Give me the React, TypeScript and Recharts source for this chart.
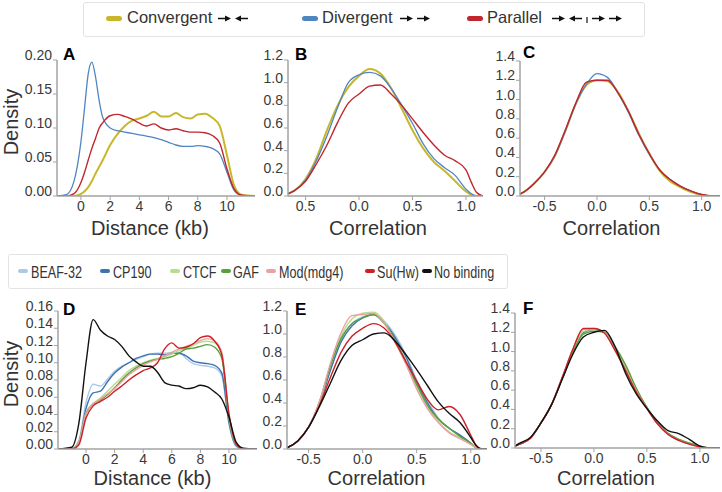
import React from 'react';
import { LineChart, Line, XAxis, YAxis } from 'recharts';

const FONT = '"Liberation Sans", Arial, Helvetica, sans-serif';
const AXIS_COLOR = '#a3a3a3';
const TEXT_COLOR = '#3a3a3a';

// ---------- top row: gene pair orientation ----------
const orientNames = ['Convergent', 'Divergent', 'Parallel'];
const orientKeys = ['conv', 'div', 'par'];
const orientColors = ['#c8b72b', '#4f86c1', '#c1252d'];
const orientWidths = [2, 1.3, 1.4];
const orientArrows = [['r', 'l'], ['r', 'r'], ['r', 'l', '|', 'r', 'r']];

// A: density of distance (kb)
const distanceA = [-1.64, -1, -0.5, 0, 0.25, 0.5, 0.75, 1, 1.25, 1.5, 2, 2.5, 3, 3.5, 4, 4.5, 5, 5.5, 6, 6.5, 7, 7.5, 8, 8.5, 9, 9.5, 10, 10.5, 11, 11.92];
const convA = [0, 0, 0, 0.003, 0.007, 0.013, 0.022, 0.033, 0.043, 0.053, 0.075, 0.091, 0.103, 0.111, 0.114, 0.118, 0.124, 0.117, 0.117, 0.122, 0.116, 0.114, 0.12, 0.121, 0.115, 0.103, 0.06, 0.015, 0.002, 0];
const divA = [0, 0.002, 0.02, 0.08, 0.13, 0.18, 0.197, 0.175, 0.14, 0.115, 0.1, 0.096, 0.094, 0.092, 0.09, 0.088, 0.086, 0.083, 0.079, 0.075, 0.073, 0.073, 0.074, 0.073, 0.07, 0.062, 0.035, 0.008, 0.001, 0];
const parA = [0, 0, 0.003, 0.02, 0.035, 0.053, 0.07, 0.085, 0.1, 0.108, 0.118, 0.12, 0.117, 0.113, 0.107, 0.103, 0.106, 0.1, 0.097, 0.099, 0.096, 0.094, 0.094, 0.093, 0.089, 0.078, 0.04, 0.01, 0.001, 0];

// B: density of correlation
const corrB = [-0.664, -0.6, -0.5, -0.4, -0.3, -0.2, -0.1, 0, 0.1, 0.2, 0.3, 0.4, 0.5, 0.6, 0.7, 0.8, 0.9, 1.0, 1.05, 1.1, 1.159];
const convB = [0.02, 0.05, 0.15, 0.33, 0.58, 0.8, 0.96, 1.06, 1.12, 1.08, 0.95, 0.77, 0.58, 0.42, 0.3, 0.22, 0.13, 0.04, 0.01, 0, 0];
const divB = [0.02, 0.05, 0.14, 0.31, 0.53, 0.78, 1.0, 1.07, 1.09, 1.06, 0.95, 0.8, 0.64, 0.46, 0.33, 0.25, 0.18, 0.06, 0.02, 0, 0];
const parB = [0.02, 0.05, 0.13, 0.28, 0.45, 0.65, 0.82, 0.9, 0.97, 0.98, 0.9, 0.8, 0.68, 0.56, 0.45, 0.36, 0.31, 0.23, 0.12, 0.03, 0];

// C: density of correlation
const corrC = [-0.735, -0.7, -0.6, -0.5, -0.4, -0.3, -0.2, -0.1, 0, 0.1, 0.2, 0.3, 0.4, 0.5, 0.6, 0.7, 0.8, 0.9, 1.0, 1.1, 1.175];
const convC = [0.02, 0.04, 0.13, 0.25, 0.42, 0.68, 0.96, 1.15, 1.2, 1.19, 1.08, 0.88, 0.65, 0.44, 0.26, 0.15, 0.09, 0.04, 0.01, 0, 0];
const divC = [0.02, 0.04, 0.13, 0.25, 0.42, 0.68, 0.96, 1.16, 1.27, 1.23, 1.07, 0.87, 0.63, 0.43, 0.27, 0.17, 0.1, 0.05, 0.015, 0, 0];
const parC = [0.02, 0.04, 0.13, 0.25, 0.43, 0.69, 0.97, 1.18, 1.2, 1.2, 1.07, 0.88, 0.64, 0.44, 0.27, 0.17, 0.1, 0.05, 0.015, 0, 0];

// ---------- bottom row: insulator binding ----------
const bindNames = ['BEAF-32', 'CP190', 'CTCF', 'GAF', 'Mod(mdg4)', 'Su(Hw)', 'No binding'];
const bindKeys = ['beaf', 'cp190', 'ctcf', 'gaf', 'mod', 'suhw', 'none'];
const bindColors = ['#a9cbe6', '#3f74b3', '#b9dc8f', '#57a03a', '#eba1a1', '#cb2026', '#111111'];

// D: density of distance (kb)
const distanceD = [-1.96, -1, -0.5, 0, 0.5, 1, 1.5, 2, 2.5, 3, 3.5, 4, 4.5, 5, 5.5, 6, 6.5, 7, 7.5, 8, 8.5, 9, 9.5, 10, 10.5, 11, 11.96];
const beafD = [0, 0, 0.01, 0.054, 0.075, 0.073, 0.081, 0.09, 0.096, 0.1, 0.104, 0.107, 0.11, 0.111, 0.111, 0.112, 0.112, 0.105, 0.099, 0.097, 0.096, 0.094, 0.085, 0.029, 0.003, 0, 0];
const cp190D = [0, 0, 0.008, 0.047, 0.065, 0.067, 0.078, 0.088, 0.095, 0.1, 0.105, 0.108, 0.11, 0.11, 0.109, 0.111, 0.111, 0.108, 0.102, 0.1, 0.099, 0.097, 0.088, 0.031, 0.004, 0, 0];
const ctcfD = [0, 0, 0.008, 0.042, 0.053, 0.059, 0.067, 0.075, 0.083, 0.091, 0.096, 0.1, 0.103, 0.105, 0.107, 0.11, 0.114, 0.117, 0.12, 0.124, 0.125, 0.123, 0.11, 0.037, 0.005, 0, 0];
const gafD = [0, 0, 0.008, 0.041, 0.052, 0.057, 0.063, 0.071, 0.08, 0.088, 0.094, 0.099, 0.102, 0.104, 0.105, 0.107, 0.111, 0.116, 0.117, 0.119, 0.121, 0.118, 0.105, 0.036, 0.005, 0, 0];
const modD = [0, 0, 0.008, 0.041, 0.052, 0.058, 0.064, 0.07, 0.078, 0.086, 0.092, 0.097, 0.101, 0.104, 0.108, 0.112, 0.116, 0.119, 0.122, 0.126, 0.128, 0.125, 0.112, 0.039, 0.006, 0, 0];
const suhwD = [0, 0, 0.005, 0.036, 0.05, 0.055, 0.06, 0.067, 0.073, 0.08, 0.086, 0.091, 0.094, 0.1, 0.116, 0.123, 0.117, 0.118, 0.122, 0.129, 0.131, 0.125, 0.109, 0.041, 0.006, 0, 0];
const noneD = [0, 0.002, 0.03, 0.1, 0.15, 0.138, 0.131, 0.127, 0.119, 0.108, 0.101, 0.096, 0.096, 0.089, 0.077, 0.074, 0.073, 0.07, 0.071, 0.074, 0.072, 0.066, 0.058, 0.037, 0.008, 0.001, 0];

// E: density of correlation
const corrE = [-0.7, -0.6, -0.5, -0.4, -0.3, -0.2, -0.1, 0, 0.1, 0.2, 0.3, 0.4, 0.5, 0.6, 0.7, 0.8, 0.9, 1.0, 1.05, 1.1, 1.15];
const beafE = [0.01, 0.07, 0.19, 0.39, 0.68, 0.94, 1.09, 1.15, 1.17, 1.11, 0.99, 0.82, 0.6, 0.42, 0.27, 0.18, 0.12, 0.05, 0.01, 0, 0];
const cp190E = [0.01, 0.07, 0.19, 0.39, 0.68, 0.93, 1.07, 1.14, 1.17, 1.1, 0.97, 0.8, 0.58, 0.4, 0.26, 0.18, 0.12, 0.05, 0.01, 0, 0];
const ctcfE = [0.01, 0.07, 0.19, 0.4, 0.72, 0.98, 1.13, 1.18, 1.19, 1.11, 0.93, 0.74, 0.54, 0.37, 0.24, 0.15, 0.1, 0.04, 0.01, 0, 0];
const gafE = [0.01, 0.07, 0.19, 0.41, 0.72, 0.96, 1.09, 1.14, 1.17, 1.09, 0.95, 0.76, 0.56, 0.38, 0.26, 0.18, 0.11, 0.05, 0.01, 0, 0];
const modE = [0.01, 0.07, 0.19, 0.41, 0.74, 1.01, 1.16, 1.17, 1.18, 1.09, 0.93, 0.74, 0.52, 0.35, 0.23, 0.14, 0.09, 0.04, 0.01, 0, 0];
const suhwE = [0.01, 0.07, 0.19, 0.38, 0.62, 0.84, 0.98, 1.05, 1.09, 1.05, 0.93, 0.76, 0.59, 0.43, 0.34, 0.37, 0.3, 0.12, 0.03, 0, 0];
const noneE = [0.01, 0.07, 0.19, 0.37, 0.57, 0.77, 0.9, 0.95, 1.0, 1.01, 0.94, 0.82, 0.69, 0.55, 0.41, 0.31, 0.23, 0.1, 0.03, 0, 0];

// F: density of correlation
const corrF = [-0.745, -0.7, -0.6, -0.5, -0.4, -0.3, -0.2, -0.1, 0, 0.1, 0.2, 0.3, 0.4, 0.5, 0.6, 0.7, 0.8, 0.9, 1.0, 1.1, 1.19];
const beafF = [0.02, 0.04, 0.1, 0.26, 0.45, 0.72, 1.0, 1.2, 1.23, 1.2, 1.03, 0.82, 0.6, 0.42, 0.26, 0.15, 0.09, 0.05, 0.02, 0, 0];
const cp190F = [0.02, 0.04, 0.1, 0.26, 0.45, 0.72, 1.0, 1.2, 1.23, 1.2, 1.03, 0.82, 0.6, 0.42, 0.26, 0.15, 0.09, 0.05, 0.02, 0, 0];
const ctcfF = [0.02, 0.04, 0.1, 0.26, 0.45, 0.72, 1.0, 1.21, 1.23, 1.2, 1.04, 0.84, 0.6, 0.42, 0.25, 0.15, 0.09, 0.05, 0.02, 0, 0];
const gafF = [0.02, 0.04, 0.1, 0.26, 0.45, 0.72, 0.99, 1.18, 1.21, 1.2, 1.05, 0.86, 0.62, 0.42, 0.26, 0.15, 0.09, 0.05, 0.02, 0, 0];
const modF = [0.02, 0.04, 0.1, 0.26, 0.45, 0.73, 1.02, 1.23, 1.24, 1.2, 1.02, 0.81, 0.59, 0.41, 0.25, 0.14, 0.08, 0.04, 0.01, 0, 0];
const suhwF = [0.02, 0.04, 0.1, 0.26, 0.45, 0.73, 1.02, 1.24, 1.24, 1.19, 1.01, 0.8, 0.58, 0.41, 0.25, 0.14, 0.08, 0.04, 0.01, 0, 0];
const noneF = [0.02, 0.05, 0.11, 0.26, 0.45, 0.71, 0.97, 1.15, 1.2, 1.22, 1.05, 0.77, 0.56, 0.41, 0.28, 0.18, 0.15, 0.09, 0.02, 0, 0];

// axis ticks
const distanceTicks = [0, 2, 4, 6, 8, 10];
const distanceLabels = ['0', '2', '4', '6', '8', '10'];
const corrTicks = [-0.5, 0, 0.5, 1];
const corrLabels = ['-0.5', '0.0', '0.5', '1.0'];
const corrLabelsB = ['0.5', '0.0', '0.5', '1.0']; // panel B prints the first one without its sign
const densityTicksA = [0, 0.05, 0.1, 0.15, 0.2];
const densityTicksD = [0, 0.02, 0.04, 0.06, 0.08, 0.1, 0.12, 0.14, 0.16];
const corrDensityTicks12 = [0, 0.2, 0.4, 0.6, 0.8, 1.0, 1.2];
const corrDensityTicks14 = [0, 0.2, 0.4, 0.6, 0.8, 1.0, 1.2, 1.4];

const makeRows = (xs: number[], keys: string[], cols: number[][]) =>
  xs.map((x, i) => {
    const row: any = { x };
    keys.forEach((k, j) => (row[k] = cols[j][i]));
    return row;
  });

const rowsA = makeRows(distanceA, orientKeys, [convA, divA, parA]);
const rowsB = makeRows(corrB, orientKeys, [convB, divB, parB]);
const rowsC = makeRows(corrC, orientKeys, [convC, divC, parC]);
const rowsD = makeRows(distanceD, bindKeys, [beafD, cp190D, ctcfD, gafD, modD, suhwD, noneD]);
const rowsE = makeRows(corrE, bindKeys, [beafE, cp190E, ctcfE, gafE, modE, suhwE, noneE]);
const rowsF = makeRows(corrF, bindKeys, [beafF, cp190F, ctcfF, gafF, modF, suhwF, noneF]);

const orientSeries = orientKeys.map((k, i) => ({ key: k, color: orientColors[i], width: orientWidths[i] }));
const bindSeries = bindKeys.map((k, i) => ({ key: k, color: bindColors[i], width: 1.4 }));

type PanelProps = {
  left: number; top: number; width: number; height: number;
  yAxisWidth: number; xAxisHeight: number; marginTop: number; marginRight: number;
  rows: any[]; series: { key: string; color: string; width: number }[];
  xDomain: [number, number]; xTicks: number[]; xLabels: string[];
  yDomain: [number, number]; yTicks: number[]; yDigits: number;
  xTitle: string; xTitleShift: number; xTitleBase: number;
  yTitle?: string;
};

function Panel(p: PanelProps) {
  const xTick = (t: any) => {
    const idx = p.xTicks.indexOf(t.payload.value);
    return (
      <text x={t.x} y={t.y + 8.5} textAnchor="middle" fontSize={14} fill={TEXT_COLOR} fontFamily={FONT}>
        {idx >= 0 ? p.xLabels[idx] : ''}
      </text>
    );
  };
  const yTick = (t: any) => (
    <text x={t.x} y={t.y} textAnchor="end" fontSize={14} fill={TEXT_COLOR} fontFamily={FONT}>
      {Number(t.payload.value).toFixed(p.yDigits)}
    </text>
  );
  const xTitle = (lp: any) => {
    const vb = lp.viewBox || {};
    return (
      <text x={vb.x + vb.width / 2 + p.xTitleShift} y={vb.y + p.xTitleBase} textAnchor="middle"
        fontSize={20} fill="#333" fontFamily={FONT}>{p.xTitle}</text>
    );
  };
  const yTitle = (lp: any) => {
    const vb = lp.viewBox || {};
    const cx = 11;
    const cy = vb.y + vb.height / 2 - 6;
    return (
      <text x={cx} y={cy} dy={7} transform={`rotate(-90 ${cx} ${cy})`} textAnchor="middle"
        fontSize={20} fill="#333" fontFamily={FONT}>{p.yTitle}</text>
    );
  };
  return (
    <div style={{ position: 'absolute', left: p.left, top: p.top }}>
      <LineChart width={p.width} height={p.height} data={p.rows}
        margin={{ top: p.marginTop, right: p.marginRight, bottom: 0, left: 0 }}>
        <XAxis type="number" dataKey="x" domain={p.xDomain} ticks={p.xTicks} interval={0} allowDataOverflow
          height={p.xAxisHeight} axisLine={{ stroke: AXIS_COLOR, strokeWidth: 1.5 }}
          tickLine={{ stroke: AXIS_COLOR }} tickSize={4} tickMargin={2} tick={xTick}
          label={{ value: p.xTitle, content: xTitle }} />
        <YAxis type="number" domain={p.yDomain} ticks={p.yTicks} interval={0} allowDataOverflow
          width={p.yAxisWidth} axisLine={{ stroke: AXIS_COLOR, strokeWidth: 1.5 }}
          tickLine={{ stroke: AXIS_COLOR }} tickSize={4} tickMargin={1} tick={yTick}
          label={p.yTitle ? { value: p.yTitle, content: yTitle } : undefined} />
        {p.series.map((s) => (
          <Line key={s.key} type="monotone" dataKey={s.key} stroke={s.color} strokeWidth={s.width}
            dot={false} activeDot={false} isAnimationActive={false} />
        ))}
      </LineChart>
    </div>
  );
}

function Arrows({ left, top, seq }: { left: number; top: number; seq: string[] }) {
  let ox = 0;
  const parts: React.ReactNode[] = [];
  seq.forEach((s, i) => {
    if (s === 'r') {
      parts.push(<line key={'l' + i} x1={ox} y1={4.5} x2={ox + 8} y2={4.5} stroke="#111" strokeWidth={1.5} />);
      parts.push(<polygon key={'p' + i} points={`${ox + 7},1.5 ${ox + 13},4.5 ${ox + 7},7.5`} fill="#111" />);
      ox += 17;
    } else if (s === 'l') {
      parts.push(<polygon key={'p' + i} points={`${ox + 6},1.5 ${ox},4.5 ${ox + 6},7.5`} fill="#111" />);
      parts.push(<line key={'l' + i} x1={ox + 5} y1={4.5} x2={ox + 13} y2={4.5} stroke="#111" strokeWidth={1.5} />);
      ox += 17;
    } else {
      parts.push(<line key={'b' + i} x1={ox + 1} y1={3} x2={ox + 1} y2={9} stroke="#111" strokeWidth={1.2} />);
      ox += 6;
    }
  });
  return (
    <svg width={ox} height={10} style={{ position: 'absolute', left, top }}>
      {parts}
    </svg>
  );
}

// legend layout (page pixels)
const topLegendPos = [
  { swatch: 106, text: 127, arrows: 218 },
  { swatch: 302, text: 322, arrows: 400 },
  { swatch: 467, text: 487, arrows: 552 },
];
const bottomLegendPos = [
  { swatch: 18, text: 31 },
  { swatch: 100, text: 113 },
  { swatch: 170, text: 183 },
  { swatch: 221, text: 233 },
  { swatch: 266, text: 279 },
  { swatch: 365, text: 377 },
  { swatch: 422, text: 434 },
];
const panelLetters = ['A', 'B', 'C', 'D', 'E', 'F'];
const letterPos = [[63, 46], [295, 46], [523, 44], [63, 301], [295, 301], [523, 300]];

export default function App() {
  return (
    <div style={{ position: 'absolute', left: 0, top: 0, width: 722, height: 492, background: '#fff', fontFamily: FONT, overflow: 'hidden' }}>
      {/* top legend */}
      <div style={{ position: 'absolute', left: 83, top: 2, width: 562, height: 35, border: '1px solid #e3e3e3', borderRadius: 3, boxSizing: 'border-box' }} />
      {orientNames.map((n, i) => (
        <React.Fragment key={n}>
          <div style={{ position: 'absolute', left: topLegendPos[i].swatch, top: 16, width: 16, height: 5, borderRadius: 3, background: orientColors[i] }} />
          <div style={{ position: 'absolute', left: topLegendPos[i].text, top: 8.5, fontSize: 16.5, lineHeight: '16.5px', color: '#333', whiteSpace: 'nowrap' }}>{n}</div>
          <Arrows left={topLegendPos[i].arrows} top={14} seq={orientArrows[i]} />
        </React.Fragment>
      ))}

      {/* bottom legend */}
      <div style={{ position: 'absolute', left: 8, top: 254, width: 500, height: 35, border: '1px solid #e3e3e3', borderRadius: 3, boxSizing: 'border-box' }} />
      {bindNames.map((n, i) => (
        <React.Fragment key={n}>
          <div style={{ position: 'absolute', left: bottomLegendPos[i].swatch, top: 269, width: 10, height: 4, borderRadius: 2, background: bindColors[i] }} />
          <div style={{ position: 'absolute', left: bottomLegendPos[i].text, top: 263.5, fontSize: 17, lineHeight: '17px', color: '#333', whiteSpace: 'nowrap', transform: 'scaleX(0.74)', transformOrigin: 'left center' }}>{n}</div>
        </React.Fragment>
      ))}

      <Panel left={0} top={40} width={256} height={206} yAxisWidth={57} xAxisHeight={50} marginTop={20} marginRight={1}
        rows={rowsA} series={orientSeries} xDomain={[-1.64, 11.92]} xTicks={distanceTicks} xLabels={distanceLabels}
        yDomain={[0, 0.2]} yTicks={densityTicksA} yDigits={2}
        xTitle="Distance (kb)" xTitleShift={-6} xTitleBase={38.5} yTitle="Density" />
      <Panel left={250} top={40} width={234} height={206} yAxisWidth={38} xAxisHeight={50} marginTop={20} marginRight={1}
        rows={rowsB} series={orientSeries} xDomain={[-0.664, 1.159]} xTicks={corrTicks} xLabels={corrLabelsB}
        yDomain={[0, 1.2]} yTicks={corrDensityTicks12} yDigits={1}
        xTitle="Correlation" xTitleShift={-7.5} xTitleBase={39} />
      <Panel left={482} top={41} width={240} height={205} yAxisWidth={38} xAxisHeight={50} marginTop={20} marginRight={2}
        rows={rowsC} series={orientSeries} xDomain={[-0.735, 1.175]} xTicks={corrTicks} xLabels={corrLabels}
        yDomain={[0, 1.4]} yTicks={corrDensityTicks14} yDigits={1}
        xTitle="Correlation" xTitleShift={-8.5} xTitleBase={39} />

      <Panel left={0} top={291} width={258} height={201} yAxisWidth={58} xAxisHeight={43} marginTop={20} marginRight={1}
        rows={rowsD} series={bindSeries} xDomain={[-1.96, 11.96]} xTicks={distanceTicks} xLabels={distanceLabels}
        yDomain={[0, 0.16]} yTicks={densityTicksD} yDigits={2}
        xTitle="Distance (kb)" xTitleShift={-5} xTitleBase={36} yTitle="Density" />
      <Panel left={250} top={291} width={238} height={201} yAxisWidth={37} xAxisHeight={43} marginTop={20} marginRight={1}
        rows={rowsE} series={bindSeries} xDomain={[-0.7, 1.15]} xTicks={corrTicks} xLabels={corrLabels}
        yDomain={[0, 1.2]} yTicks={corrDensityTicks12} yDigits={1}
        xTitle="Correlation" xTitleShift={-10.5} xTitleBase={36} />
      <Panel left={480} top={293} width={242} height={198} yAxisWidth={35} xAxisHeight={43} marginTop={20} marginRight={2}
        rows={rowsF} series={bindSeries} xDomain={[-0.745, 1.19]} xTicks={corrTicks} xLabels={corrLabels}
        yDomain={[0, 1.4]} yTicks={corrDensityTicks14} yDigits={1}
        xTitle="Correlation" xTitleShift={-11.5} xTitleBase={37} />

      {panelLetters.map((l, i) => (
        <div key={l} style={{ position: 'absolute', left: letterPos[i][0], top: letterPos[i][1], fontSize: 17, lineHeight: '17px', fontWeight: 'bold', color: '#000' }}>{l}</div>
      ))}
    </div>
  );
}
